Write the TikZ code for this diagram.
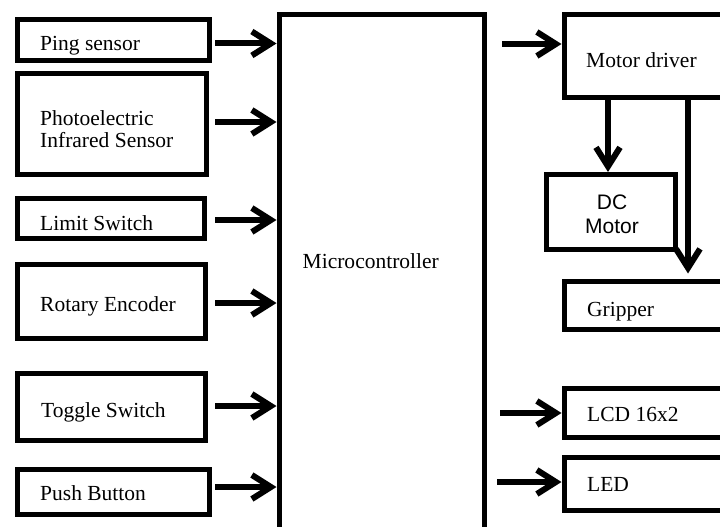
\documentclass[tikz,border=0pt]{standalone}
\usepackage{fontspec}
\setmainfont{Liberation Serif}
\newfontfamily\arialfont{Liberation Sans}
\usepackage{tikz}
\usetikzlibrary{arrows.meta}

\tikzset{
	blk/.style={draw, line width=5pt, inner sep=0pt},
	lbl/.style={anchor=base west, inner sep=0pt, font=\fontsize{21.5}{22}\selectfont},
	arr/.style={line width=6pt, -{Straight Barb[length=19pt,width=24pt]}}
}

\begin{document}
\begin{tikzpicture}[x=1pt,y=-1pt]
			\clip (0,0) rectangle (720,527);
			\fill [white] (0,0) rectangle (720,527);
			% inputs
			\node [blk, minimum width=192, minimum height=41] (ping) at (113.5,40) {};
			\node [blk, minimum width=189, minimum height=101] (photo) at (112,124) {};
			\node [blk, minimum width=187, minimum height=40] (limit) at (111,218.5) {};
			\node [blk, minimum width=188, minimum height=74] (rotary) at (111.5,301.5) {};
			\node [blk, minimum width=188, minimum height=67] (toggle) at (111.5,407) {};
			\node [blk, minimum width=192, minimum height=45] (push) at (113.5,492) {};
			\node [lbl] (pingtxt) at (40,51) {Ping sensor};
			\node [lbl, align=left] (phototxt) at (40,147) {Photoelectric\\Infrared Sensor};
			\node [lbl] (limittxt) at (40,230) {Limit Switch};
			\node [lbl] (rotarytxt) at (40,311) {Rotary Encoder};
			\node [lbl] (toggletxt) at (41,417) {Toggle Switch};
			\node [lbl] (pushtxt) at (40,500.5) {Push Button};
			% controller
			\node [blk, minimum width=205.5, minimum height=545.5] (micro) at (381.75,287.25) {};
			\node [lbl] (microtxt) at (302.5,268) {Microcontroller};
			% outputs
			\node [blk, minimum width=176, minimum height=83] (mdrv) at (652,56) {};
			\node [blk, minimum width=129, minimum height=75] (dc) at (611,212) {};
			\node [blk, minimum width=176, minimum height=48.5] (grip) at (652,305.25) {};
			\node [blk, minimum width=176, minimum height=49] (lcd) at (652,413) {};
			\node [blk, minimum width=176, minimum height=53] (led) at (652,484) {};
			\node [lbl] (mdrvtxt) at (586,67) {Motor driver};
			\node [lbl, anchor=base, align=center, font=\arialfont\fontsize{21}{24}\selectfont] (dctxt) at (612,233) {DC\\Motor};
			\node [lbl] (griptxt) at (587,316) {Gripper};
			\node [lbl] (lcdtxt) at (587,421) {LCD 16x2};
			\node [lbl] (ledtxt) at (587,491) {LED};
			% arrows in
			\draw [arr, shorten <=3pt] (ping.east |- 0,43.5) -- (micro.west |- 0,43.5);
			\draw [arr, shorten <=6pt] (photo.east |- 0,122) -- (micro.west |- 0,122);
			\draw [arr, shorten <=8pt] (limit.east |- 0,220) -- (micro.west |- 0,220);
			\draw [arr, shorten <=7pt] (rotary.east |- 0,303) -- (micro.west |- 0,303);
			\draw [arr, shorten <=7pt] (toggle.east |- 0,406) -- (micro.west |- 0,406);
			\draw [arr, shorten <=3pt] (push.east |- 0,487) -- (micro.west |- 0,487);
			% arrows out
			\draw [arr, shorten <=15pt] (micro.east |- 0,44) -- (mdrv.west |- 0,44);
			\draw [arr] (mdrv.south -| 608,0) -- (dc.north -| 608,0);
			\draw [arr, shorten >=5pt] (mdrv.south -| 688,0) -- (grip.north -| 688,0);
			\draw [arr, shorten <=13pt] (micro.east |- 0,413) -- (lcd.west |- 0,413);
			\draw [arr, shorten <=10pt] (micro.east |- 0,482) -- (led.west |- 0,482);
		\end{tikzpicture}
\end{document}
